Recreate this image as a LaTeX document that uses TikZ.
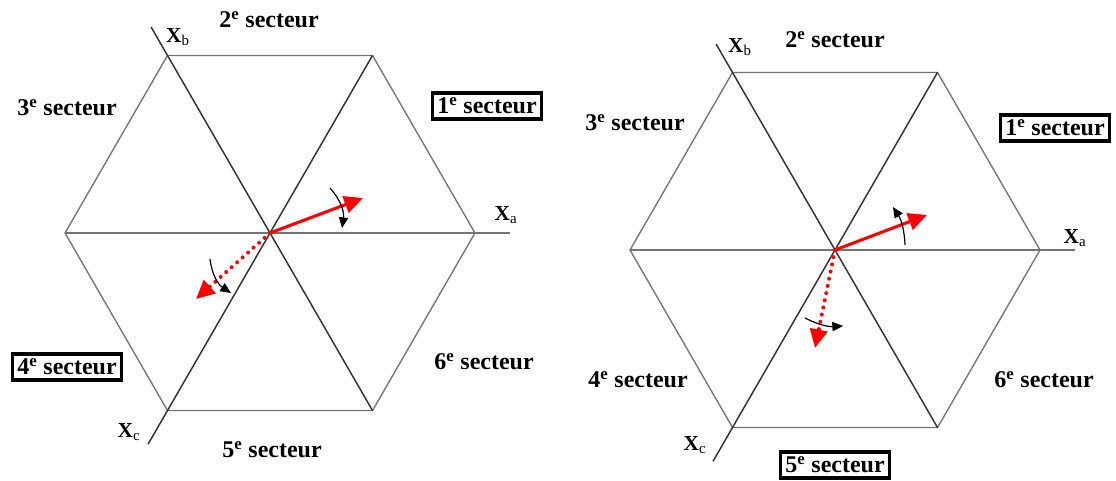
\documentclass[tikz,border=0pt]{standalone}
\usepackage{fontspec}
\setmainfont{Liberation Serif}
\usetikzlibrary{calc,arrows.meta}

\tikzset{
  hexedge/.style={draw=black!55, line width=1pt},
  diag/.style={draw=black!80, line width=1.1pt},
  sect/.style={font=\fontsize{18}{20}\selectfont\bfseries, inner sep=3pt},
  sectbox/.style={sect, draw=black, line width=2.4pt, inner sep=3.5pt},
  axlab/.style={font=\fontsize{16}{18}\selectfont, inner sep=0pt},
  vec/.style={draw=red, line width=2.3pt, -{Triangle[length=14pt,width=13pt]}},
  vecdot/.style={vec, line width=3pt, line cap=round, dash pattern=on 0pt off 5.5pt},
  turn/.style={draw=black, line width=0.9pt, -{Triangle[length=8pt,width=7pt]}}
}

\begin{document}
\begin{tikzpicture}[x=0.75pt,y=-0.75pt]
    \useasboundingbox (0,0) rectangle (1116,481);
    \pgfmathsetmacro{\rad}{205}
    % hexagons with the three axes
    \foreach \h/\cx/\cy in {hl/270/233,hr/835/250} {
        \coordinate (\h) at (\cx,\cy);
        \foreach \k in {0,...,5}
            \coordinate (\h\k) at ($(\h)+({-60*\k}:\rad)$);
        \draw[hexedge] (\h0) -- (\h1) -- (\h2) -- (\h3) -- (\h4) -- (\h5) -- cycle;
        \draw[hexedge] (\h3) -- ($(\h)!1.17!(\h0)$) coordinate (\h a);
        \draw[diag] (\h5) -- ($(\h)!1.16!(\h2)$) coordinate (\h b);
        \draw[diag] (\h1) -- ($(\h)!1.19!(\h4)$) coordinate (\h c);
    }

    % axis names
    \node[axlab] (xal) at (506,215) {\textbf{X}\textsubscript{a}};
    \node[axlab] (xbl) at (178,37) {\textbf{X}\textsubscript{b}};
    \node[axlab] (xcl) at (129,432) {\textbf{X}\textsubscript{c}};
    \node[axlab] (xar) at (1075,238) {\textbf{X}\textsubscript{a}};
    \node[axlab] (xbr) at (740,47) {\textbf{X}\textsubscript{b}};
    \node[axlab] (xcr) at (695,445) {\textbf{X}\textsubscript{c}};

    % sectors, left
    \node[sectbox] (s1l) at (487,106) {1\textsuperscript{e} secteur};
    \node[sect] (s2l) at (269,20) {2\textsuperscript{e} secteur};
    \node[sect] (s3l) at (67,108) {3\textsuperscript{e} secteur};
    \node[sectbox] (s4l) at (67,367) {4\textsuperscript{e} secteur};
    \node[sect] (s5l) at (272,450) {5\textsuperscript{e} secteur};
    \node[sect] (s6l) at (484,362) {6\textsuperscript{e} secteur};
    % sectors, right
    \node[sectbox] (s1r) at (1055,128) {1\textsuperscript{e} secteur};
    \node[sect] (s2r) at (835,40) {2\textsuperscript{e} secteur};
    \node[sect] (s3r) at (635,123) {3\textsuperscript{e} secteur};
    \node[sect] (s4r) at (638,380) {4\textsuperscript{e} secteur};
    \node[sectbox] (s5r) at (835,465) {5\textsuperscript{e} secteur};
    \node[sect] (s6r) at (1044,380) {6\textsuperscript{e} secteur};

    % vectors
    \coordinate (vl) at (363,198);
    \coordinate (wl) at (196,299);
    \coordinate (vr) at (927,215);
    \coordinate (wr) at (815,348);
    \draw[vec] (hl) -- (vl);
    \draw[vecdot] (hl) -- (wl);
    \draw[vec] (hr) -- (vr);
    \draw[vecdot] (hr) -- (wr);

    % rotation marks
    \coordinate (t1a) at (330,188);  \coordinate (t1b) at (342,228);
    \coordinate (t2a) at (210,259);  \coordinate (t2b) at (231,293);
    \coordinate (t3a) at (905,245);  \coordinate (t3b) at (893,207);
    \coordinate (t4a) at (805,318);  \coordinate (t4b) at (843,326);
    \draw[turn] (t1a) to[bend left=25] (t1b);
    \draw[turn] (t2a) to[bend right=25] (t2b);
    \draw[turn] (t3a) to[bend right=15] (t3b);
    \draw[turn] (t4a) to[bend right=15] (t4b);
\end{tikzpicture}
\end{document}
